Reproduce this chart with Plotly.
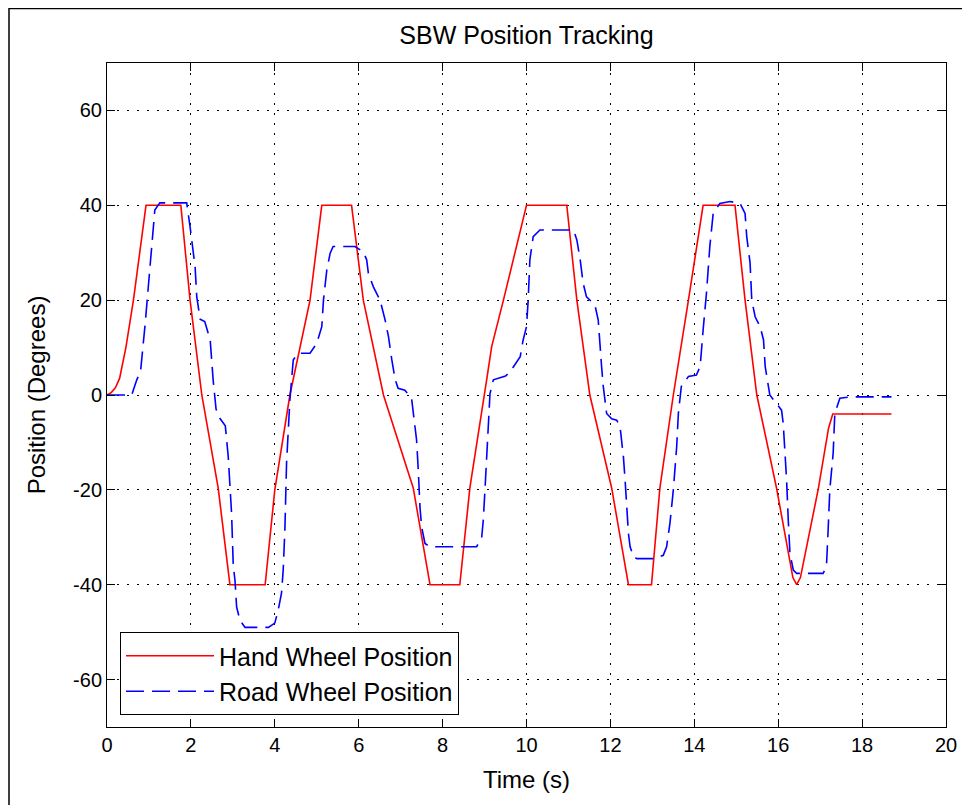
import plotly.graph_objects as go

# ---- data ----
hand_t = [0, 0.1, 0.2, 0.3, 0.45, 0.63, 0.93, 1.76, 1.98, 2.26, 2.65, 2.93, 3.77, 4.0, 4.36,
          4.6, 4.84, 5.12, 5.83, 6.11, 6.59, 7.3, 7.7, 8.41, 8.65, 9.05, 9.17, 9.45, 10.0,
          10.96, 11.2, 11.51, 12.03, 12.43, 12.98, 13.18, 13.5, 13.86, 14.21, 14.97, 15.21,
          15.49, 15.96, 16.35, 16.44, 16.53, 16.96, 17.2, 17.3, 18.7]
hand_pos = [0, 0.5, 1.5, 3.5, 10, 20, 40, 40, 20, 0, -19.6, -40, -40, -20, 0,
            10.2, 20, 40, 40, 20, 0, -19.6, -40, -40, -19.6, 3.2, 10.2, 20, 40,
            40, 20, 0, -19.6, -40, -40, -19.6, 0, 20, 40, 40, 20,
            0, -19.6, -38.5, -40, -38.5, -19.6, -7, -4, -4]

road_t = [0, 0.59, 0.71, 0.8, 0.91, 0.98, 1.06, 1.14, 1.26, 1.9, 1.98, 2.06, 2.1, 2.14, 2.22,
          2.33, 2.46, 2.53, 2.6, 2.69, 2.82, 2.89, 2.93, 2.97, 3.01, 3.05, 3.09, 3.17, 3.29,
          3.85, 4.0, 4.08, 4.16, 4.2, 4.24, 4.28, 4.36, 4.44, 4.56, 4.84, 5.0, 5.12, 5.16,
          5.24, 5.32, 5.39, 5.91, 6.11, 6.19, 6.23, 6.35, 6.51, 6.63, 6.71, 6.79, 6.87, 6.94,
          7.1, 7.26, 7.3, 7.38, 7.42, 7.46, 7.5, 7.58, 7.7, 8.81, 8.93, 8.97, 9.01, 9.05,
          9.09, 9.13, 9.21, 9.33, 9.5, 9.61, 9.85, 9.92, 10.0, 10.04, 10.08, 10.16, 10.32,
          11.12, 11.2, 11.28, 11.35, 11.43, 11.63, 11.71, 11.75, 11.79, 11.83, 11.91, 12.03,
          12.15, 12.23, 12.31, 12.35, 12.39, 12.43, 12.47, 12.55, 12.63, 13.06, 13.26, 13.34,
          13.42, 13.5, 13.58, 13.62, 13.69, 13.86, 14.05, 14.14, 14.21, 14.29, 14.37, 14.45,
          14.61, 14.85, 15.09, 15.21, 15.25, 15.33, 15.37, 15.45, 15.57, 15.65, 15.69, 15.8,
          15.96, 16.08, 16.12, 16.16, 16.2, 16.24, 16.28, 16.36, 16.44, 17.07, 17.15, 17.19,
          17.23, 17.31, 17.35, 17.47, 17.71, 18.7]
road_pos = [0, 0, 3.2, 5, 15, 22, 31, 39, 40.5, 40.5, 35.5, 29, 27, 20.7, 16,
            15.5, 11.6, 3.2, -3, -4.9, -6.5, -13, -20, -25, -36, -39, -44.7, -47.5, -49,
            -49, -48.1, -45.4, -41.8, -36.9, -28.5, -14.4, -1, 7.4, 8.8, 8.8, 10.9, 14.4, 20,
            26.4, 29.9, 31.3, 31.3, 30.2, 28.5, 25.7, 22.8, 20, 15.8, 12.3, 7.4, 3.2, 1.4,
            1.0, -0.7, -3.9, -9.5, -15.8, -23.6, -27.8, -31.3, -32, -32, -30.2, -26.4, -20, -13,
            -5.3, 0.3, 3.2, 3.5, 4, 4.9, 8.1, 11.6, 14.4, 20, 28.5, 33.4, 34.8,
            34.8, 32.7, 28.5, 23.6, 20.7, 19, 15.8, 10, 6, 1.8, -3.9, -5,
            -5.3, -6.7, -13, -17.9, -23.6, -29.2, -32, -34.1, -34.5, -34.5, -33.8, -32,
            -27, -20, -10.9, -3.9, 1.8, 3.9, 4.2, 6, 13.7, 21.5, 31.3, 38.3,
            40.4, 40.8, 40.4, 38.3, 33.4, 27.8, 20, 16.5, 14.4, 11.6, 6, 0,
            -1.8, -3.2, -6, -10.9, -17.9, -26.4, -33.4, -36.9, -37.6, -37.6, -36.2, -28.5,
            -20, -12.3, -3.9, -0.7, -0.4, -0.4]

x_ticks = [0, 2, 4, 6, 8, 10, 12, 14, 16, 18, 20]
x_tick_labels = ["0", "2", "4", "6", "8", "10", "12", "14", "16", "18", "20"]
y_ticks = [-60, -40, -20, 0, 20, 40, 60]
y_tick_labels = ["-60", "-40", "-20", "0", "20", "40", "60"]

FONT = "Liberation Sans, Arial, sans-serif"

fig = go.Figure()
fig.add_trace(go.Scatter(x=hand_t, y=hand_pos, mode="lines", name="Hand Wheel Position",
                         line=dict(color="#ff0000", width=1.6)))
fig.add_trace(go.Scatter(x=road_t, y=road_pos, mode="lines", name="Road Wheel Position",
                         line=dict(color="#0000ff", width=1.6, dash="18px,8px")))

axis_common = dict(showline=True, linecolor="black", linewidth=1, mirror="allticks",
                   ticks="inside", ticklen=8, tickcolor="black", tickwidth=1,
                   showgrid=True, gridcolor="black", gridwidth=1, griddash="2px,8px",
                   zeroline=False, tickfont=dict(family=FONT, size=20, color="black"))

fig.update_xaxes(range=[0, 20], tickvals=x_ticks, ticktext=x_tick_labels,
                 title=dict(text="Time (s)", font=dict(family=FONT, size=24, color="black"), standoff=16),
                 **axis_common)
fig.update_yaxes(range=[-70, 70], tickvals=y_ticks, ticktext=y_tick_labels,
                 title=dict(text="Position (Degrees)", font=dict(family=FONT, size=24, color="black"), standoff=20),
                 **axis_common)

# page body has an 8px margin: figure origin sits at page (8, 8)
W, H = 962, 797
L, R, T, B = 99, 24, 55, 78
PW, PH = W - L - R, H - T - B

fig.update_layout(
    width=W, height=H,
    margin=dict(l=L, r=R, t=T, b=B),
    paper_bgcolor="white", plot_bgcolor="white",
    title=dict(text="SBW Position Tracking", x=(L + PW / 2) / W, xanchor="center",
               y=1 - 27 / H, yanchor="middle", font=dict(family=FONT, size=25, color="black")),
    legend=dict(x=(120 - 107) / PW, y=(727 - 715) / PH, xanchor="left", yanchor="bottom",
                bgcolor="white", bordercolor="black", borderwidth=1,
                font=dict(family=FONT, size=25, color="black"),
                itemwidth=88, tracegroupgap=0),
    showlegend=True,
    shapes=[dict(type="rect", xref="paper", yref="paper",
                 x0=(1 - L) / PW, x1=(959 - L) / PW,
                 y0=-0.3, y1=(H - B - 0.5) / PH,
                 line=dict(color="black", width=1.5), fillcolor="rgba(0,0,0,0)", layer="below")],
)

fig.write_html("out.html")
